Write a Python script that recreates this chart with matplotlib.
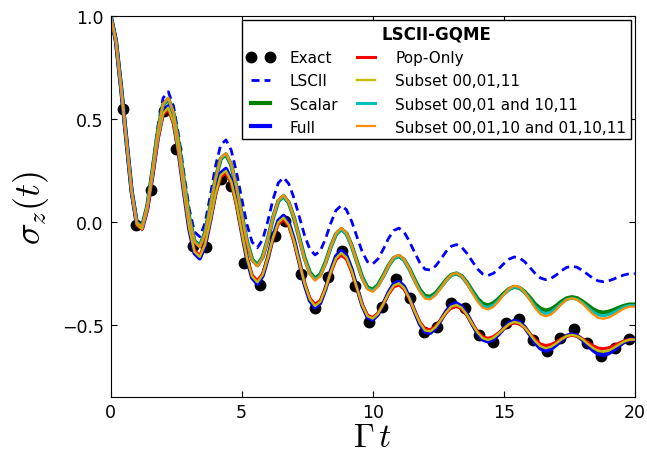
import numpy as np
import matplotlib
matplotlib.use("Agg")
from matplotlib import pyplot as plt

# time grid and sigma_z(t) for each method
t = np.linspace(0, 20, 101)

t_exact = [0.47, 0.98, 1.53, 2.03, 2.50, 3.14, 3.65, 4.20, 4.58, 5.10,
           5.70, 6.27, 6.65, 7.25, 7.80, 8.30, 8.82, 9.32, 9.87, 10.36,
           10.89, 11.41, 11.95, 12.45, 13.00, 13.51, 14.05, 14.58, 15.07,
           15.58, 16.13, 16.64, 17.15, 17.68, 18.19, 18.70, 19.24, 19.78]
sz_exact = [0.55, -0.013, 0.155, 0.54, 0.353, -0.117, -0.122, 0.208, 0.172,
            -0.197, -0.304, -0.066, 0.006, -0.251, -0.42, -0.267, -0.143,
            -0.312, -0.488, -0.412, -0.275, -0.369, -0.533, -0.509, -0.391,
            -0.42, -0.549, -0.581, -0.489, -0.472, -0.573, -0.627, -0.565,
            -0.52, -0.586, -0.649, -0.613, -0.569]

sz_lscii = [1.0, 0.88, 0.65, 0.40, 0.15, -0.005,
            -0.020, 0.084, 0.267, 0.462, 0.601,
            0.632, 0.562, 0.416, 0.233, 0.063, -0.048,
            -0.072, -0.006, 0.125, 0.270, 0.374,
            0.398, 0.349, 0.244, 0.114, -0.011, -0.098,
            -0.125, -0.086, 0.004, 0.111, 0.190,
            0.215, 0.185, 0.115, 0.025, -0.065, -0.132, -0.160,
            -0.141, -0.082, -0.006, 0.056,
            0.080, 0.059, 0.002, -0.072, -0.145, -0.193,
            -0.204, -0.180, -0.134, -0.081, -0.042,
            -0.030, -0.049, -0.094, -0.148, -0.198, -0.230,
            -0.233, -0.214, -0.181, -0.144, -0.118,
            -0.110, -0.123, -0.153, -0.191, -0.228, -0.253,
            -0.260, -0.250, -0.229, -0.203, -0.181, -0.170,
            -0.175, -0.193, -0.221, -0.250, -0.272,
            -0.280, -0.274, -0.258, -0.237, -0.221,
            -0.215, -0.220, -0.235, -0.254, -0.273, -0.286,
            -0.290, -0.286, -0.277, -0.266, -0.257, -0.251, -0.251]

sz_scalar = [1.0, 0.88, 0.65, 0.40, 0.15, -0.005,
             -0.021, 0.078, 0.252, 0.436, 0.568,
             0.597, 0.526, 0.378, 0.192, 0.020, -0.093,
             -0.117, -0.054, 0.070, 0.207, 0.306,
             0.328, 0.277, 0.170, 0.036, -0.093, -0.182,
             -0.210, -0.171, -0.083, 0.022, 0.101,
             0.125, 0.093, 0.019, -0.077, -0.174, -0.245, -0.275,
             -0.256, -0.197, -0.121, -0.059,
             -0.035, -0.056, -0.115, -0.193, -0.268, -0.318,
             -0.329, -0.307, -0.263, -0.213, -0.176,
             -0.165, -0.184, -0.227, -0.280, -0.329, -0.360,
             -0.363, -0.346, -0.315, -0.282, -0.257,
             -0.250, -0.263, -0.294, -0.334, -0.372, -0.397,
             -0.405, -0.395, -0.374, -0.348, -0.326, -0.315,
             -0.320, -0.339, -0.368, -0.399, -0.421,
             -0.430, -0.424, -0.408, -0.387, -0.371,
             -0.365, -0.370, -0.385, -0.404, -0.423, -0.436,
             -0.440, -0.436, -0.427, -0.416, -0.407, -0.401, -0.401]

sz_full = [1.0, 0.88, 0.65, 0.40, 0.15, -0.01,
           -0.031, 0.064, 0.230, 0.408, 0.534,
           0.562, 0.488, 0.335, 0.143, -0.035, -0.152,
           -0.177, -0.116, 0.006, 0.140, 0.236,
           0.258, 0.205, 0.094, -0.045, -0.178, -0.271,
           -0.300, -0.262, -0.175, -0.071, 0.006,
           0.030, -0.006, -0.088, -0.195, -0.302, -0.381, -0.415,
           -0.393, -0.325, -0.238, -0.167,
           -0.140, -0.164, -0.231, -0.319, -0.404, -0.461,
           -0.474, -0.449, -0.400, -0.344, -0.302,
           -0.290, -0.314, -0.368, -0.434, -0.495, -0.534,
           -0.538, -0.516, -0.477, -0.435, -0.404,
           -0.395, -0.411, -0.448, -0.495, -0.540, -0.571,
           -0.580, -0.569, -0.546, -0.517, -0.493, -0.480,
           -0.486, -0.510, -0.547, -0.586, -0.614,
           -0.625, -0.617, -0.597, -0.573, -0.553,
           -0.545, -0.552, -0.571, -0.597, -0.622, -0.640,
           -0.645, -0.638, -0.621, -0.601, -0.582, -0.571, -0.571]

sz_pop = [1.0, 0.88, 0.65, 0.40, 0.15, -0.015,
          -0.036, 0.057, 0.221, 0.395, 0.520,
          0.547, 0.476, 0.329, 0.145, -0.026, -0.138,
          -0.163, -0.106, 0.006, 0.129, 0.218,
          0.238, 0.189, 0.084, -0.046, -0.171, -0.258,
          -0.285, -0.251, -0.172, -0.079, -0.010,
          0.012, -0.021, -0.098, -0.196, -0.296, -0.369, -0.400,
          -0.381, -0.322, -0.246, -0.184,
          -0.160, -0.182, -0.243, -0.323, -0.401, -0.452,
          -0.464, -0.443, -0.400, -0.352, -0.316,
          -0.305, -0.326, -0.373, -0.432, -0.485, -0.519,
          -0.523, -0.506, -0.475, -0.442, -0.417,
          -0.410, -0.423, -0.454, -0.494, -0.532, -0.557,
          -0.565, -0.557, -0.539, -0.518, -0.499, -0.490,
          -0.495, -0.513, -0.541, -0.570, -0.592,
          -0.600, -0.595, -0.583, -0.567, -0.555,
          -0.550, -0.555, -0.567, -0.584, -0.600, -0.612,
          -0.615, -0.611, -0.601, -0.588, -0.577, -0.571, -0.571]

sz_sub_a = [1.0, 0.88, 0.65, 0.40, 0.15, -0.012,
            -0.034, 0.061, 0.226, 0.402, 0.527,
            0.555, 0.482, 0.332, 0.144, -0.031, -0.145,
            -0.170, -0.111, 0.006, 0.135, 0.227,
            0.248, 0.197, 0.089, -0.046, -0.175, -0.265,
            -0.293, -0.257, -0.174, -0.075, -0.002,
            0.021, -0.014, -0.093, -0.196, -0.299, -0.375, -0.408,
            -0.387, -0.324, -0.242, -0.176,
            -0.150, -0.173, -0.237, -0.321, -0.403, -0.457,
            -0.469, -0.446, -0.400, -0.348, -0.309,
            -0.298, -0.320, -0.371, -0.433, -0.490, -0.527,
            -0.531, -0.511, -0.476, -0.439, -0.411,
            -0.403, -0.417, -0.451, -0.495, -0.536, -0.564,
            -0.573, -0.563, -0.543, -0.518, -0.496, -0.485,
            -0.491, -0.512, -0.544, -0.578, -0.603,
            -0.613, -0.606, -0.590, -0.570, -0.554,
            -0.548, -0.554, -0.569, -0.591, -0.611, -0.626,
            -0.630, -0.625, -0.611, -0.595, -0.580, -0.571, -0.571]

sz_sub_b = [1.0, 0.88, 0.65, 0.40, 0.15, -0.005,
            -0.021, 0.078, 0.252, 0.436, 0.568,
            0.598, 0.527, 0.378, 0.192, 0.019, -0.095,
            -0.119, -0.055, 0.070, 0.208, 0.307,
            0.330, 0.279, 0.171, 0.036, -0.094, -0.184,
            -0.212, -0.172, -0.083, 0.022, 0.101,
            0.125, 0.093, 0.019, -0.080, -0.178, -0.249, -0.280,
            -0.260, -0.200, -0.122, -0.059,
            -0.035, -0.057, -0.117, -0.196, -0.272, -0.322,
            -0.334, -0.311, -0.266, -0.215, -0.176,
            -0.165, -0.185, -0.229, -0.284, -0.335, -0.367,
            -0.370, -0.352, -0.319, -0.284, -0.258,
            -0.250, -0.264, -0.297, -0.339, -0.380, -0.407,
            -0.415, -0.404, -0.381, -0.352, -0.328, -0.315,
            -0.320, -0.342, -0.375, -0.410, -0.435,
            -0.445, -0.438, -0.419, -0.396, -0.377,
            -0.370, -0.376, -0.392, -0.414, -0.436, -0.451,
            -0.455, -0.450, -0.439, -0.426, -0.413, -0.406, -0.406]

sz_sub_c = [1.0, 0.88, 0.65, 0.40, 0.15, -0.007,
            -0.022, 0.078, 0.253, 0.439, 0.573,
            0.602, 0.530, 0.379, 0.192, 0.017, -0.097,
            -0.122, -0.058, 0.069, 0.209, 0.310,
            0.333, 0.281, 0.172, 0.036, -0.096, -0.187,
            -0.215, -0.175, -0.084, 0.024, 0.105,
            0.130, 0.096, 0.020, -0.080, -0.180, -0.253, -0.285,
            -0.264, -0.202, -0.121, -0.055,
            -0.030, -0.052, -0.114, -0.196, -0.275, -0.327,
            -0.339, -0.315, -0.267, -0.213, -0.172,
            -0.160, -0.181, -0.228, -0.285, -0.339, -0.372,
            -0.376, -0.356, -0.322, -0.284, -0.256,
            -0.248, -0.263, -0.298, -0.343, -0.387, -0.416,
            -0.425, -0.413, -0.386, -0.353, -0.324, -0.310,
            -0.316, -0.341, -0.379, -0.418, -0.447,
            -0.458, -0.450, -0.428, -0.400, -0.378,
            -0.370, -0.377, -0.396, -0.422, -0.447, -0.465,
            -0.470, -0.464, -0.451, -0.435, -0.420, -0.411, -0.411]

labels = ['Exact', 'LSCII', 'Scalar', 'Full', 'Pop-Only',
          'Subset 00,01,11', 'Subset 00,01 and 10,11',
          'Subset 00,01,10 and 01,10,11']

plt.rcParams['mathtext.fontset'] = 'cm'
plt.rcParams['xtick.direction'] = 'in'
plt.rcParams['ytick.direction'] = 'in'
plt.rcParams['xtick.top'] = True
plt.rcParams['ytick.right'] = True
plt.rcParams['xtick.major.size'] = 4
plt.rcParams['ytick.major.size'] = 4
plt.rcParams['xtick.major.pad'] = 4.5
plt.rcParams['ytick.major.pad'] = 5
plt.rcParams['xtick.labelsize'] = 12.5
plt.rcParams['ytick.labelsize'] = 12.5

fig = plt.figure(figsize=(6.47, 4.56), dpi=100)
ax = fig.add_axes([0.171, 0.127, 0.810, 0.836])

# exact reference points sit under the curves
ax.plot(t_exact, sz_exact, 'o', color='k', ms=7.5, mec='k', label=labels[0])
ax.plot(t, sz_lscii, color='b', lw=2, ls=(0, (2.9, 1.8)), label=labels[1])
ax.plot(t, sz_scalar, color='g', lw=3, label=labels[2])
ax.plot(t, sz_full, color='b', lw=3, label=labels[3])
ax.plot(t, sz_pop, color='r', lw=2.2, label=labels[4])
ax.plot(t, sz_sub_a, color='y', lw=1.7, label=labels[5])
ax.plot(t, sz_sub_b, color='c', lw=2.2, label=labels[6])
ax.plot(t, sz_sub_c, color='darkorange', lw=1.6, label=labels[7])

ax.set_xlim(0, 20)
ax.set_ylim(-0.85, 1.0)
ax.set_xticks([0, 5, 10, 15, 20])
ax.set_yticks([-0.5, 0.0, 0.5, 1.0])

ax.set_xlabel(r'$\Gamma\,t$', fontsize=24, labelpad=-1)
ax.set_ylabel(r'$\sigma_z(t)$', fontsize=26, labelpad=8)

leg = ax.legend(ncol=2, loc='upper right', fontsize=11, numpoints=2,
                title='LSCII-GQME',
                title_fontproperties={'weight': 'bold', 'size': 12},
                fancybox=False, edgecolor='k', framealpha=1,
                borderaxespad=0.25, handlelength=1.8, columnspacing=1.0,
                labelspacing=0.53, borderpad=0.3, handletextpad=1.0)
leg.get_frame().set_linewidth(1.0)

fig.savefig('out.png', dpi=100)
